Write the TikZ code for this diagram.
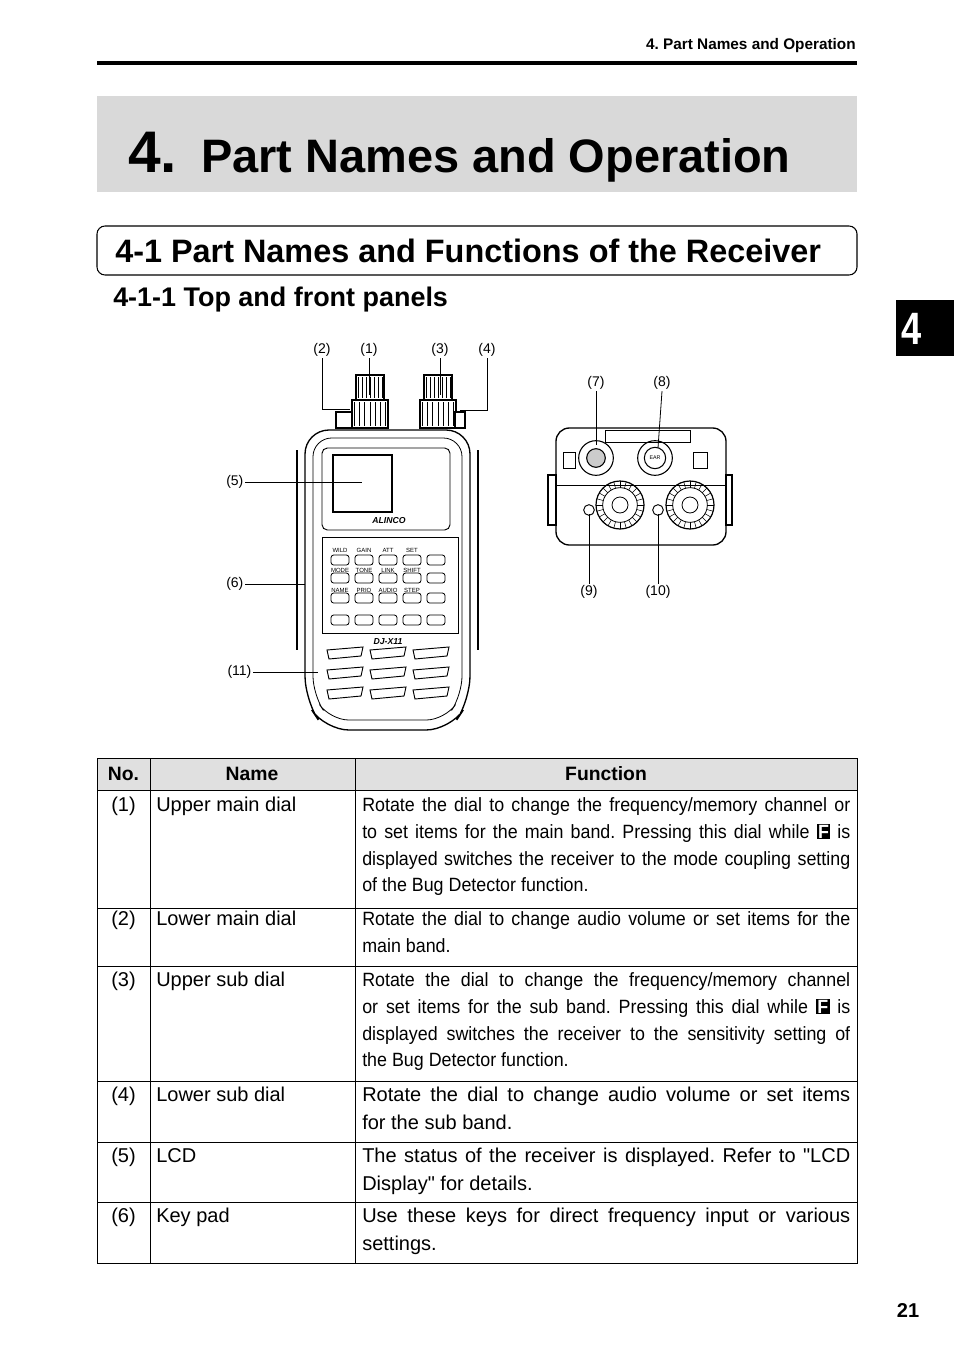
\documentclass[tikz,border=0pt]{standalone}
\usepackage{fontspec}
\setmainfont{Liberation Sans}
\newfontfamily\nar[FakeStretch=0.93]{Liberation Sans}
\usetikzlibrary{calc}
\frenchspacing
\newlength\fw
\setlength\fw{366pt}
\newcommand\jl[1]{\makebox[\fw][s]{#1}\\}
\newcommand\Fk{\setlength\fboxsep{1pt}\colorbox{black}{\textcolor{white}{\textbf{F}}}}
\begin{document}
\begin{tikzpicture}[x=0.75pt,y=-0.75pt,
  lbl/.style={font=\fontsize{10.5}{12}\selectfont,inner sep=1pt},
  lead/.style={line width=0.6pt},
  cell/.style={anchor=north west,font=\fontsize{15}{20}\selectfont,inner sep=0pt},
  fn/.style={anchor=north west,font=\nar\fontsize{14.4}{20.2}\selectfont,inner sep=0pt,align=left},
  body/.style={line width=1pt,draw=black}]
\useasboundingbox (0,0) rectangle (954,1352);
% header
\node[anchor=base east,font=\bfseries\fontsize{11.5}{12}\selectfont,inner sep=0] (hdr) at (856,50) {4. Part Names and Operation};
\draw[line width=2.5pt] (97,63) -- (857,63);
\node[fill=black!15,minimum width=570pt,minimum height=72pt,anchor=north west,inner sep=0] (gbox) at (97,96) {};
\node[anchor=base west,font=\bfseries\fontsize{44}{46}\selectfont,inner sep=0] (n4) at (128,172) {4.};
\node[anchor=base west,font=\bfseries\fontsize{35.2}{37}\selectfont,inner sep=0] (ttl) at (201,172) {Part Names and Operation};
\draw[rounded corners=6pt,line width=0.8pt] (97,226) rectangle (857,275);
\node[anchor=base west,font=\bfseries\fontsize{24.3}{26}\selectfont,inner sep=0] (sec) at (115,262) {4-1 Part Names and Functions of the Receiver};
\node[anchor=base west,font=\bfseries\fontsize{20.2}{22}\selectfont,inner sep=0] (sub) at (113,306) {4-1-1 Top and front panels};
\fill (896,300) rectangle (954,356);
\node[text=white,font=\bfseries\fontsize{34}{36}\selectfont,inner sep=0,xscale=0.8] (tab) at (912,329) {4};
% ===== radio front =====
\foreach \cx in {370,438}{
  \draw[body,fill=white] (\cx-18,400) rectangle (\cx+18,428);
  \draw[body,fill=white] (\cx-14,375) rectangle (\cx+14,400);
  \foreach \k in {-12,-8,...,12} {\draw[line width=0.5pt] (\cx+\k,377) -- (\cx+\k,398); \draw[line width=0.5pt] (\cx+\k*1.3,402) -- (\cx+\k*1.3,426);}
}
\draw[body,fill=white] (336,412) rectangle (352,428);
\draw[body,fill=white] (455,412) rectangle (465,428);
\draw[body,fill=white,rounded corners=18pt] (305,430) -- (470,430) -- (470,700) -- (450,730) -- (325,730) -- (305,700) -- cycle;
\draw[line width=0.6pt,rounded corners=14pt] (313,438) -- (462,438) -- (462,695) -- (445,720) -- (330,720) -- (313,695) -- cycle;
\draw[body] (297,450) -- (297,650);
\draw[body] (478,450) -- (478,650);
\draw[line width=0.7pt,rounded corners=4pt] (322,448) rectangle (450,530);
\draw[line width=0.8pt] (333,455) rectangle (392,512);
\node[font=\bfseries\itshape\fontsize{6.5}{7}\selectfont,inner sep=0] (alinco) at (389,521) {ALINCO};
\draw[line width=0.7pt] (322,537) rectangle (458,633);
\foreach \r in {560,578,598,620}{
  \foreach \c in {340,364,388,412,436}{
    \draw[line width=0.6pt,rounded corners=2pt] (\c-9,\r-5) rectangle (\c+9,\r+5);
  }
}
\foreach \c/\t in {340/WILD,364/GAIN,388/ATT,412/SET}{\node[font=\fontsize{4.5}{5}\selectfont,inner sep=0] at (\c,550) {\t};}
\foreach \c/\t in {340/MODE,364/TONE,388/LINK,412/SHIFT}{\node[font=\fontsize{4.5}{5}\selectfont,inner sep=0] at (\c,570) {\t};}
\foreach \c/\t in {340/NAME,364/PRIO,388/AUDIO,412/STEP}{\node[font=\fontsize{4.5}{5}\selectfont,inner sep=0] at (\c,590) {\t};}
\node[font=\bfseries\itshape\fontsize{6.5}{7}\selectfont,inner sep=0] (djx) at (388,642) {DJ-X11};
\foreach \gy in {650,670,690}{
  \foreach \gx in {345,388,431}{
    \draw[line width=0.7pt] (\gx-18,\gy) -- (\gx+18,\gy-3) -- (\gx+16,\gy+6) -- (\gx-16,\gy+9) -- cycle;
  }
}
% ===== radio top =====
\draw[body,fill=white,rounded corners=10pt] (556,428) rectangle (726,545);
\draw[line width=0.7pt] (556,485) -- (726,485);
\draw[body] (548,475) rectangle (556,525);
\draw[body] (726,475) rectangle (732,525);
\draw[line width=0.7pt] (605,430) rectangle (690,442);
\draw[line width=0.8pt] (596,458) circle (13pt);
\draw[line width=0.8pt,fill=black!20] (596,458) circle (7pt);
\draw[line width=0.8pt] (655,458) circle (13pt);
\draw[line width=0.8pt] (655,458) circle (8pt);
\node[font=\fontsize{4}{5}\selectfont,inner sep=0] (ear) at (655,458) {EAR};
\draw[line width=0.6pt] (563,452) rectangle (575,468);
\draw[line width=0.6pt] (693,452) rectangle (707,468);
\foreach \cx in {620,690}{
  \draw[line width=0.9pt] (\cx,505) circle (18pt);
  \draw[line width=0.6pt] (\cx,505) circle (13pt);
  \draw[line width=0.6pt] (\cx,505) circle (6pt);
  \foreach \a in {0,15,...,345} \draw[line width=0.4pt] ($(\cx,505)+(\a:13pt)$) -- ($(\cx,505)+(\a:18pt)$);
}
\draw[line width=0.7pt] (589,510) circle (4pt);
\draw[line width=0.7pt] (658,510) circle (4pt);
% ===== labels =====
\node[lbl] (l2) at (322,350) {(2)};
\node[lbl] (l1) at (369,350) {(1)};
\node[lbl] (l3) at (440,350) {(3)};
\node[lbl] (l4) at (487,350) {(4)};
\coordinate (e2) at (350,409); \coordinate (e1) at (369,395);
\coordinate (e3) at (440,395); \coordinate (e4) at (460,410);
\draw[lead] (l2.south) |- (e2);
\draw[lead] (l1.south) -- (e1);
\draw[lead] (l3.south) -- (e3);
\draw[lead] (l4.south) |- (e4);
\node[lbl,anchor=east] (l5) at (245,482) {(5)};
\node[lbl,anchor=east] (l6) at (245,584) {(6)};
\node[lbl,anchor=east] (l11) at (253,672) {(11)};
\coordinate (e5) at (362,482); \coordinate (e6) at (305,584); \coordinate (e11) at (318,672);
\draw[lead] (l5.east) -- (e5);
\draw[lead] (l6.east) -- (e6);
\draw[lead] (l11.east) -- (e11);
\node[lbl] (l7) at (596,383) {(7)};
\node[lbl] (l8) at (662,383) {(8)};
\node[lbl] (l9) at (589,592) {(9)};
\node[lbl] (l10) at (658,592) {(10)};
\coordinate (e7) at (596,445); \coordinate (e8) at (658,448);
\coordinate (e9) at (589,514); \coordinate (e10) at (658,514);
\draw[lead] (l7.south) -- (e7);
\draw[lead] (l8.south) -- (e8);
\draw[lead] (l9.north) -- (e9);
\draw[lead] (l10.north) -- (e10);
% ===== table =====
\fill[black!12] (97,758) rectangle (857,790);
\draw[line width=0.6pt] (97,758) rectangle (857,1263);
\foreach \y in {790,908,966,1081,1142,1202} \draw[line width=0.6pt] (97,\y) -- (857,\y);
\draw[line width=0.6pt] (150,758) -- (150,1263);
\draw[line width=0.6pt] (355,758) -- (355,1263);
\node[font=\bfseries\fontsize{14.5}{16}\selectfont] (hno) at (123.5,774) {No.};
\node[font=\bfseries\fontsize{14.5}{16}\selectfont] (hname) at (252,774) {Name};
\node[font=\bfseries\fontsize{14.5}{16}\selectfont] (hfn) at (606,774) {Function};
\foreach \y/\n/\nm in {797/(1)/Upper main dial,911/(2)/Lower main dial,972/(3)/Upper sub dial,1087/(4)/Lower sub dial,1148/(5)/LCD,1208/(6)/Key pad}{
  \node[cell,anchor=north] at (123.5,\y) {\n};
  \node[cell] at (156,\y) {\nm};
}
\node[fn] (f1) at (362,797) {\jl{Rotate the dial to change the frequency/memory channel or}\jl{to set items for the main band. Pressing this dial while \Fk\ is}\jl{displayed switches the receiver to the mode coupling setting}of the Bug Detector function.};
\node[fn] (f2) at (362,911) {\jl{Rotate the dial to change audio volume or set items for the}main band.};
\node[fn] (f3) at (362,972) {\jl{Rotate the dial to change the frequency/memory channel}\jl{or set items for the sub band. Pressing this dial while \Fk\ is}\jl{displayed switches the receiver to the sensitivity setting of}the Bug Detector function.};
\node[fn,font=\fontsize{15}{20.5}\selectfont] (f4) at (362,1087) {\jl{Rotate the dial to change audio volume or set items}for the sub band.};
\node[fn,font=\fontsize{15}{20.5}\selectfont] (f5) at (362,1148) {\jl{The status of the receiver is displayed. Refer to \textquotedbl LCD}Display\textquotedbl{} for details.};
\node[fn,font=\fontsize{15}{20.5}\selectfont] (f6) at (362,1208) {\jl{Use these keys for direct frequency input or various}settings.};
\node[font=\bfseries\fontsize{15}{18}\selectfont,inner sep=0] (pg) at (908,1311) {21};
\end{tikzpicture}
\end{document}
